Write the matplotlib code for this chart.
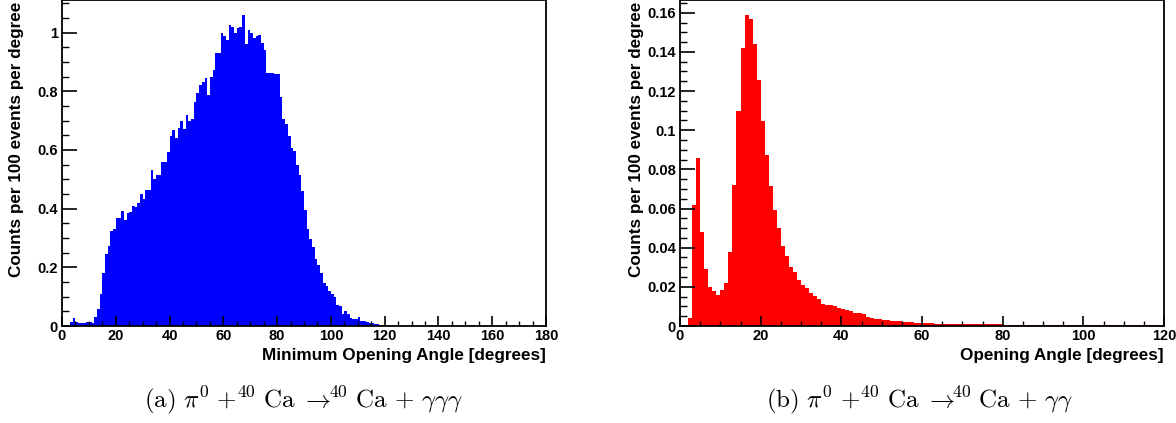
import numpy as np
import matplotlib
matplotlib.use("Agg")
import matplotlib.pyplot as plt
from matplotlib.ticker import MultipleLocator

plt.rcParams['font.family'] = ['Liberation Sans', 'DejaVu Sans']
plt.rcParams['mathtext.fontset'] = 'cm'

# (a) minimum opening angle, 1 degree bins starting at 0
min_angle_counts = [
    0.0, 0.0, 0.0, 0.015, 0.028, 0.012, 0.011, 0.011, 0.010, 0.014,
    0.012, 0.011, 0.032, 0.057, 0.110, 0.179, 0.244, 0.272, 0.323, 0.329,
    0.368, 0.368, 0.391, 0.360, 0.385, 0.389, 0.410, 0.405, 0.420, 0.450,
    0.433, 0.465, 0.463, 0.533, 0.500, 0.514, 0.514, 0.559, 0.558, 0.593,
    0.646, 0.669, 0.640, 0.675, 0.700, 0.673, 0.720, 0.700, 0.705, 0.763,
    0.794, 0.822, 0.831, 0.846, 0.788, 0.848, 0.871, 0.932, 0.930, 0.998,
    0.990, 0.975, 1.026, 1.018, 0.998, 1.015, 1.018, 1.059, 0.961, 1.009,
    0.998, 0.982, 0.990, 0.993, 0.964, 0.940, 0.862, 0.862, 0.862, 0.860,
    0.860, 0.780, 0.704, 0.689, 0.646, 0.605, 0.595, 0.548, 0.516, 0.459,
    0.397, 0.329, 0.298, 0.270, 0.227, 0.209, 0.179, 0.145, 0.138, 0.119,
    0.109, 0.099, 0.070, 0.068, 0.040, 0.051, 0.040, 0.028, 0.025, 0.023,
    0.031, 0.017, 0.017, 0.014, 0.011, 0.011, 0.008, 0.006, 0.003, 0.002,
    0.001, 0.001, 0.0005, 0.0005, 0.0005,
]

# (b) opening angle, 1 degree bins starting at 0
open_angle_counts = [
    0.0, 0.0005, 0.004, 0.062, 0.086, 0.048, 0.029, 0.0197, 0.0179, 0.016,
    0.0184, 0.0221, 0.038, 0.072, 0.110, 0.142, 0.1586, 0.1566, 0.144, 0.1256,
    0.1047, 0.0873, 0.0717, 0.0592, 0.0502, 0.0409, 0.0357, 0.0303, 0.0275, 0.0235,
    0.021, 0.0192, 0.0167, 0.0155, 0.0136, 0.0112, 0.0106, 0.0105, 0.0104, 0.0094,
    0.0087, 0.0082, 0.0077, 0.0065, 0.0068, 0.006, 0.0048, 0.0043, 0.0037, 0.0036,
    0.0032, 0.0031, 0.0028, 0.0027, 0.0026, 0.0022, 0.002, 0.0019, 0.0017, 0.0015,
    0.0014, 0.0013, 0.0013, 0.0011, 0.0010, 0.0010, 0.0010, 0.0010, 0.0010, 0.0008,
    0.0008, 0.0008, 0.0008, 0.0008, 0.0008, 0.0008, 0.0008, 0.0008, 0.0008, 0.0008,
    0.0006, 0.0006, 0.0006, 0.0006, 0.0006, 0.0006, 0.0006, 0.0006, 0.0006, 0.0006,
    0.0006, 0.0006, 0.0006, 0.0006, 0.0006, 0.0006, 0.0006, 0.0006, 0.0006, 0.0006,
    0.0005, 0.0005, 0.0005, 0.0005, 0.0005, 0.0005, 0.0005, 0.0005, 0.0005, 0.0005,
    0.0005, 0.0005, 0.0005, 0.0005, 0.0005, 0.0003, 0.0003, 0.0003, 0.0003, 0.0003,
]

ylabel = "Counts per 100 events per degree"
captions = [r"$\mathrm{(a)}\ \pi^0\ {+}^{40}\ \mathrm{Ca}\ {\rightarrow}\!\!{}^{40}\ \mathrm{Ca}\,+\,\gamma\gamma\gamma$",
            r"$\mathrm{(b)}\ \pi^0\ {+}^{40}\ \mathrm{Ca}\ {\rightarrow}\!\!{}^{40}\ \mathrm{Ca}\,+\,\gamma\gamma$"]


def style_axis(ax, xmax, ymax, ymajor, yminor):
    ax.set_xlim(0, xmax)
    ax.set_ylim(0, ymax)
    ax.xaxis.set_major_locator(MultipleLocator(20))
    ax.xaxis.set_minor_locator(MultipleLocator(5))
    ax.yaxis.set_major_locator(MultipleLocator(ymajor))
    ax.yaxis.set_minor_locator(MultipleLocator(yminor))
    ax.yaxis.set_major_formatter(plt.FuncFormatter(lambda v, p: f"{v:g}"))
    ax.tick_params(axis='y', which='major', direction='in', length=10.8, width=1.2, pad=3)
    ax.tick_params(axis='y', which='minor', direction='in', length=5.2, width=1.0)
    ax.tick_params(axis='x', which='major', direction='in', length=7.2, width=1.2, pad=2.5)
    ax.tick_params(axis='x', which='minor', direction='in', length=3.6, width=1.0)
    ax.tick_params(labelsize=10.5)
    for sp in ax.spines.values():
        sp.set_linewidth(1.3)


fig = plt.figure(figsize=(11.76, 4.23), dpi=100)
ax1 = fig.add_axes([62 / 1176, 97 / 423, 484 / 1176, 326 / 423])
ax2 = fig.add_axes([680 / 1176, 97 / 423, 484 / 1176, 326 / 423])

ax1.stairs(min_angle_counts, np.arange(len(min_angle_counts) + 1), fill=True, color='#0000ff')
ax2.stairs(open_angle_counts, np.arange(len(open_angle_counts) + 1), fill=True, color='#ff0000')

style_axis(ax1, 180, 1.111, 0.2, 0.05)
style_axis(ax2, 120, 0.1665, 0.02, 0.005)
for ax in (ax1, ax2):
    for lab in ax.get_xticklabels() + ax.get_yticklabels():
        lab.set_fontweight('bold')

# axis titles ROOT style: aligned to the axis ends
fig.text(546 / 1176, 1 - 355 / 423, "Minimum Opening Angle [degrees]", ha='right', va='center',
         fontsize=12.3, fontweight='bold')
fig.text(1164 / 1176, 1 - 355 / 423, "Opening Angle [degrees]", ha='right', va='center',
         fontsize=12.3, fontweight='bold')
fig.text(17 / 1176, 1 - 277 / 423, ylabel, rotation=90, ha='center', va='bottom',
         fontsize=12.3, fontweight='bold')
fig.text(636 / 1176, 1 - 277 / 423, ylabel, rotation=90, ha='center', va='bottom',
         fontsize=12.3, fontweight='bold')

fig.text(303 / 1176, 1 - 400 / 423, captions[0], ha='center', va='center', fontsize=18)
fig.text(920 / 1176, 1 - 400 / 423, captions[1], ha='center', va='center', fontsize=18)

fig.savefig("out.png", dpi=100)
